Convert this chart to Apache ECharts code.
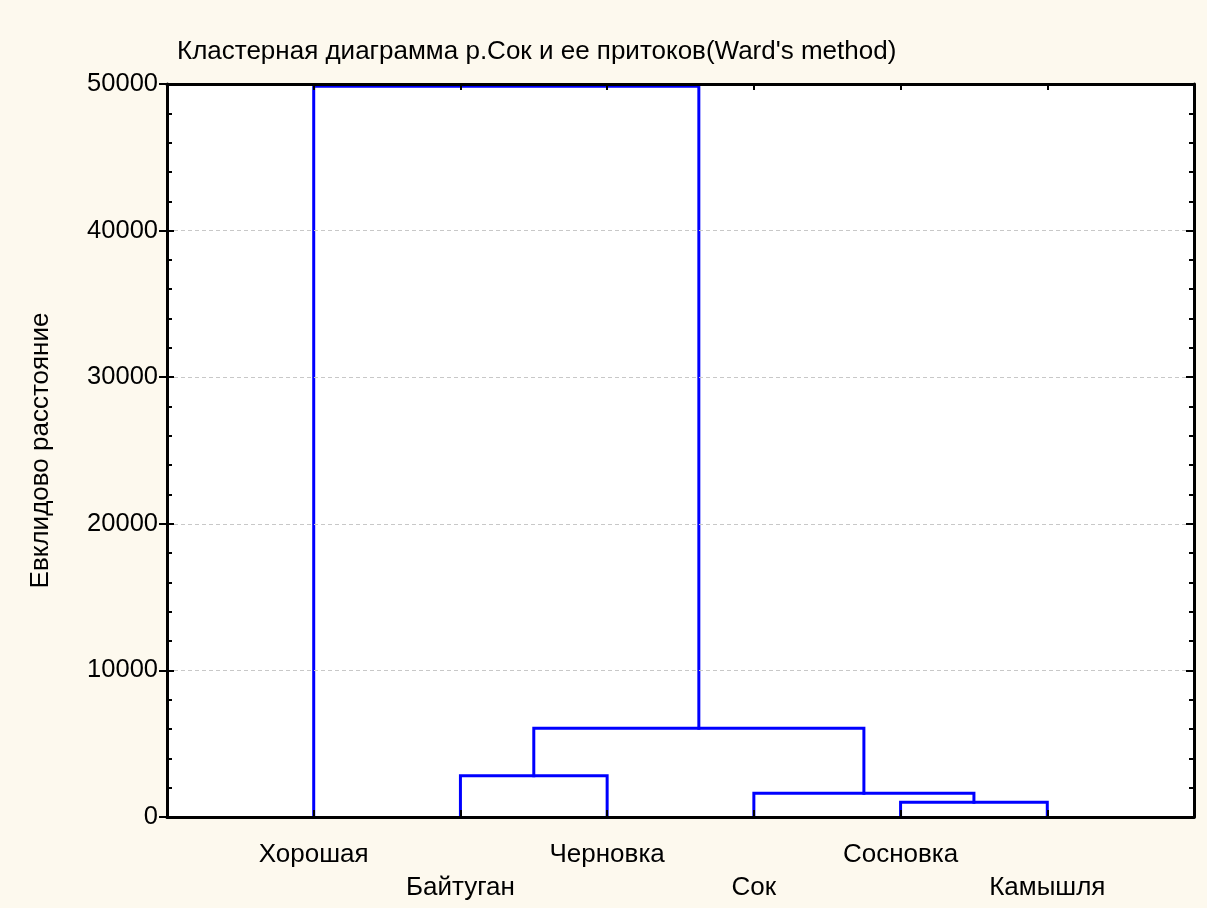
<!DOCTYPE html>
<html>
<head>
<meta charset="utf-8">
<script src="https://cdn.jsdelivr.net/npm/echarts@6/dist/echarts.min.js"></script>
<style>
html,body{margin:0;padding:0;background:#fdf9ee;}
#chart{width:1207px;height:908px;}
</style>
</head>
<body>
<div id="chart"></div>
<script>
// Leaves (order along x axis) and their positions
const leaves = ['Хорошая', 'Байтуган', 'Черновка', 'Сок', 'Сосновка', 'Камышля'];
const leafPos = [1, 2, 3, 4, 5, 6];
// Merges: [childA, childB, height]; indices 0..5 are leaves, 6+ are merged clusters in order
const merges = [
  [4, 5, 1003],
  [3, 6, 1617],
  [1, 2, 2817],
  [8, 7, 6051],
  [0, 9, 49850]
];
const yTicks = [0, 10000, 20000, 30000, 40000, 50000];
const titleText = "Кластерная диаграмма р.Сок и ее притоков(Ward's method)";
const yName = 'Евклидово расстояние';

const FONT = '"Liberation Sans", Arial, sans-serif';

// build node coordinates
const nodeX = leafPos.slice();
const nodeH = leafPos.map(() => 0);
const series = [];
merges.forEach(m => {
  const [a, b, h] = m;
  series.push({
    type: 'line',
    symbol: 'none',
    silent: true,
    animation: false,
    lineStyle: { color: '#0000ff', width: 3, join: 'miter', cap: 'square' },
    data: [[nodeX[a], nodeH[a]], [nodeX[a], h], [nodeX[b], h], [nodeX[b], nodeH[b]]],
    z: 2
  });
  nodeX.push((nodeX[a] + nodeX[b]) / 2);
  nodeH.push(h);
});

const chart = echarts.init(document.getElementById('chart'), null, { renderer: 'canvas' });
const yMin = yTicks[0], yMax = yTicks[yTicks.length - 1], yInt = yTicks[1] - yTicks[0];

chart.setOption({
  backgroundColor: '#fdf9ee',
  animation: false,
  title: {
    text: titleText,
    left: 172, top: 34,
    textStyle: { fontFamily: FONT, fontSize: 26, fontWeight: 'normal', color: '#000' }
  },
  grid: {
    left: 167, right: 13, top: 84, bottom: 91,
    show: true, backgroundColor: '#ffffff', borderWidth: 0
  },
  xAxis: [
    {
      type: 'value', position: 'bottom', min: 0, max: leaves.length + 1, interval: 1, z: 5,
      axisLine: { show: true, onZero: false, lineStyle: { color: '#000', width: 3 } },
      axisTick: { show: true, inside: true, length: 7, lineStyle: { color: '#000', width: 2 } },
      splitLine: { show: false },
      axisLabel: {
        show: true, margin: 21, fontFamily: FONT, fontSize: 26, color: '#000', lineHeight: 33,
        formatter: v => {
          const i = leafPos.indexOf(v);
          if (i < 0) return '';
          return i % 2 === 0 ? leaves[i] + '\n ' : ' \n' + leaves[i];
        }
      }
    },
    {
      type: 'value', position: 'top', min: 0, max: leaves.length + 1, interval: 1, z: 5,
      axisLine: { show: true, onZero: false, lineStyle: { color: '#000', width: 3 } },
      axisTick: { show: true, inside: true, length: 6, lineStyle: { color: '#000', width: 2 } },
      splitLine: { show: false },
      axisLabel: { show: false }
    }
  ],
  yAxis: [
    {
      type: 'value', position: 'left', min: yMin, max: yMax, interval: yInt, z: 5,
      name: yName, nameLocation: 'middle', nameRotate: 90, nameGap: 113,
      nameTextStyle: { fontFamily: FONT, fontSize: 26, color: '#000' },
      axisLine: { show: true, onZero: false, lineStyle: { color: '#000', width: 3 } },
      axisTick: { show: true, inside: false, length: 8, lineStyle: { color: '#000', width: 2 } },
      axisLabel: { show: true, margin: 9, fontFamily: FONT, fontSize: 25.5, color: '#000', formatter: v => String(v) },
      splitLine: { show: true, lineStyle: { color: '#c8c8c8', type: [4, 3], width: 1 } }
    },
    {
      type: 'value', position: 'left', min: yMin, max: yMax, interval: yInt, z: 5,
      axisLine: { show: false },
      axisTick: { show: true, inside: true, length: 7, lineStyle: { color: '#000', width: 2 } },
      minorTick: { show: true, splitNumber: 5, length: 5, lineStyle: { color: '#000', width: 2 } },
      axisLabel: { show: false },
      splitLine: { show: false }
    },
    {
      type: 'value', position: 'right', min: yMin, max: yMax, interval: yInt, z: 5,
      axisLine: { show: true, onZero: false, lineStyle: { color: '#000', width: 3 } },
      axisTick: { show: true, inside: true, length: 8, lineStyle: { color: '#000', width: 2 } },
      minorTick: { show: true, splitNumber: 5, length: 5, lineStyle: { color: '#000', width: 2 } },
      axisLabel: { show: false },
      splitLine: { show: false }
    }
  ],
  series: series
});
</script>
</body>
</html>
